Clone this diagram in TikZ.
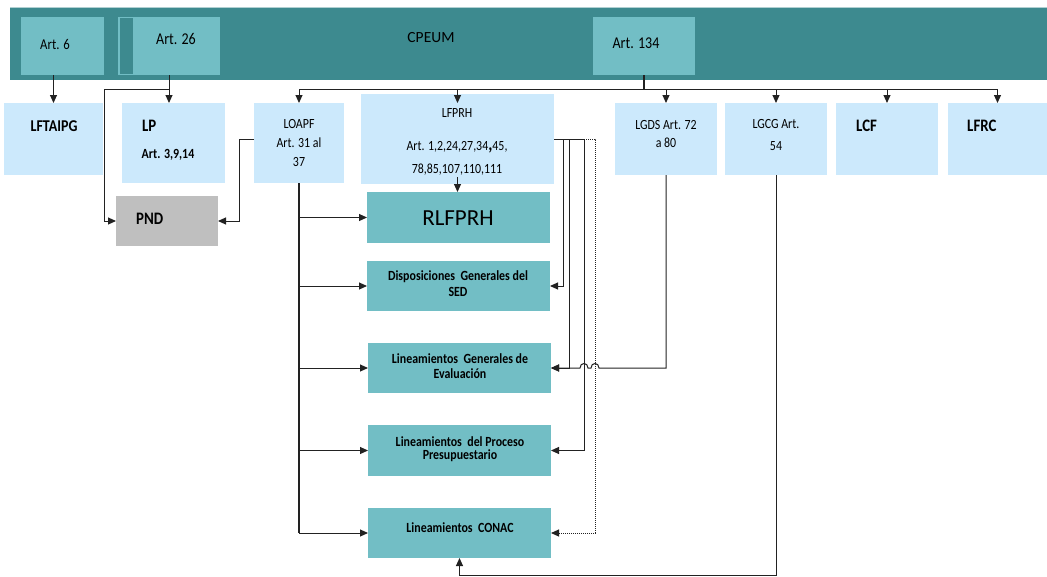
\documentclass[tikz,border=0pt]{standalone}
\usepackage{fontspec}
\setmainfont{Carlito}[FakeStretch=0.85]
\newfontfamily\plaincarlito{Carlito}
\usetikzlibrary{arrows.meta}
\definecolor{banner}{HTML}{3D8A8F}
\definecolor{tealbox}{HTML}{72BEC5}
\definecolor{lightbox}{HTML}{CCE9FC}
\definecolor{pndgray}{HTML}{BFBFBF}
\definecolor{lineclr}{HTML}{222222}
\tikzset{
  box/.style={draw=none, inner sep=0pt, outer sep=0pt, anchor=north west},
  lbox/.style={box, fill=lightbox},
  tbox/.style={box, fill=tealbox},
  ln/.style={draw=lineclr, line width=1pt},
  arr/.style={ln, -{Triangle[length=8pt,width=7pt]}},
  txt/.style={inner sep=0pt, font=\fontsize{14}{16}\selectfont},
  txtb/.style={inner sep=0pt, font=\fontsize{14}{16}\selectfont\bfseries},
  txtbig/.style={inner sep=0pt, font=\fontsize{17.5}{19}\selectfont\bfseries},
  txtart/.style={inner sep=0pt, font=\fontsize{16.5}{18}\selectfont},
}
\begin{document}
\begin{tikzpicture}[x=1pt,y=-1pt]
\useasboundingbox (0,0) rectangle (1047,576);
% banner
\node[box, fill=banner, minimum width=1037pt, minimum height=73pt] (cpeum) at (10,7) {};
\draw[draw=banner!40, line width=1pt] (cpeum.north west) -- (cpeum.north east);
\node[tbox, minimum width=83pt, minimum height=58pt] (art6) at (21,17) {};
\node[tbox, minimum width=102pt, minimum height=58pt] (art26) at (118,17) {};
\node[box, fill=banner, minimum width=13pt, minimum height=56pt] (strip) at (120,18) {};
\node[tbox, minimum width=102pt, minimum height=58pt] (art134) at (593,17) {};
\node[txtart, font=\fontsize{15}{17}\selectfont] (tart6) at (55,44) {Art. 6};
\node[txtart] (tart26) at (176,39) {Art. 26};
\node[inner sep=0pt, font=\plaincarlito\fontsize{15.5}{17}\selectfont] (tcpeum) at (431,38) {CPEUM};
\node[txtart] (tart134) at (636,43) {Art. 134};
% second row
\node[lbox, minimum width=99pt, minimum height=72pt] (lftaipg) at (4,103) {};
\node[lbox, minimum width=103pt, minimum height=80pt] (lp) at (122,103) {};
\node[lbox, minimum width=90pt, minimum height=80pt] (loapf) at (254,103) {};
\node[lbox, minimum width=193pt, minimum height=90pt] (lfprh) at (361,94) {};
\node[lbox, minimum width=102pt, minimum height=72pt] (lgds) at (615,103) {};
\node[lbox, minimum width=102pt, minimum height=72pt] (lgcg) at (725,103) {};
\node[lbox, minimum width=102pt, minimum height=72pt] (lcf) at (836,103) {};
\node[lbox, minimum width=99pt, minimum height=72pt] (lfrc) at (948,103) {};
\node[box, fill=pndgray, minimum width=102pt, minimum height=50pt] (pnd) at (116,196) {};
% teal boxes
\node[tbox, minimum width=183pt, minimum height=51pt] (rlfprh) at (367,192) {};
\node[tbox, minimum width=183pt, minimum height=50pt] (disp) at (367,261) {};
\node[tbox, minimum width=183pt, minimum height=50pt] (lge) at (368,343) {};
\node[tbox, minimum width=183pt, minimum height=51pt] (lpp) at (368,425) {};
\node[tbox, minimum width=183pt, minimum height=50pt] (conac) at (368,508) {};
% texts
\node[txtb, font=\fontsize{16.5}{18}\selectfont\bfseries] (tlftaipg) at (54,126) {LFTAIPG};
\node[txtbig, anchor=west] (tlp) at (142,126) {LP};
\node[txtb] (tlpart) at (168,155) {Art. 3,9,14};
\node[txt] (tloapf1) at (299,124) {LOAPF};
\node[txt] (tloapf2) at (299,143) {Art. 31 al};
\node[txt] (tloapf3) at (299,162) {37};
\node[txt] (tlfprh1) at (457,113) {LFPRH};
\node[txt] (tlfprh2) at (457,147) {Art. 1,2,24,27,34{\fontsize{19}{19}\selectfont\bfseries,}45,};
\node[txt] (tlfprh3) at (457,170) {78,85,107,110,111};
\node[txt] (tlgds1) at (666,125) {LGDS Art. 72};
\node[txt] (tlgds2) at (666,143) {a 80};
\node[txt] (tlgcg1) at (776,124) {LGCG Art.};
\node[txt] (tlgcg2) at (776,146) {54};
\node[txtbig, anchor=west] (tlcf) at (856,126) {LCF};
\node[txtbig, anchor=west] (tlfrc) at (967,126) {LFRC};
\node[txtbig, anchor=west] (tpnd) at (136,219) {PND};
\node[inner sep=0pt, font=\plaincarlito\fontsize{23}{25}\selectfont] (trlfprh) at (458,218) {RLFPRH};
\node[txtb] (tdisp1) at (458,277) {Disposiciones\ \ Generales del};
\node[txtb] (tdisp2) at (458,292) {SED};
\node[txtb] (tlge1) at (460,359) {Lineamientos\ \ Generales de};
\node[txtb] (tlge2) at (460,374) {Evaluación};
\node[txtb] (tlpp1) at (460,442) {Lineamientos\ \ del Proceso};
\node[txtb] (tlpp2) at (460,456) {Presupuestario};
\node[txtb] (tconac) at (460,528) {Lineamientos\ \ CONAC};
% connectors from banner
\coordinate (bus) at (644,89);
\coordinate (tipy) at (0,103);
\draw[ln, line width=2pt] (art134.south) -- (art134.south |- bus);
\draw[ln] (loapf.north |- bus) -- (lfrc.north |- bus);
\foreach \n in {loapf,lfprh,lgds,lgcg,lcf,lfrc}
  \draw[arr] (\n.north |- bus) -- (\n.north |- tipy);
\draw[arr] (art6.south -| lftaipg.north) -- (lftaipg.north);
\draw[arr] (art26.south) -- (art26.south |- lp.north);
\coordinate (j26) at (art26.south |- bus);
\coordinate (pndl) at (104,89);
\draw[arr] (j26) -- (pndl) |- (pnd.west);
\coordinate (loapfw) at (254,139);
\coordinate (loapfl) at (239,139);
\draw[arr] (loapfw) -- (loapfl) |- (pnd.east);
% LOAPF trunk
\draw[ln, line width=1.4pt] (loapf.south) -- (loapf.south |- conac.west);
\foreach \n in {rlfprh,disp,lge,lpp,conac}
  \draw[arr] (loapf.south |- \n.west) -- (\n.west);
% LFPRH to RLFPRH
\coordinate (lfs) at (457.5,177);
\draw[arr] (lfs) -- (lfs |- rlfprh.north);
% LFPRH right side
\coordinate (v1) at (563,139);
\coordinate (v2) at (569,139);
\coordinate (v3) at (584,139);
\coordinate (v4) at (595,139);
\draw[ln] (lfprh.east) -- (v3);
\draw[arr] (v1) |- (disp.east);
\draw[arr] (v2) |- (lge.east);
\draw[arr] (v3) |- (lpp.east);
\draw[arr, densely dotted] (v3) -- (v4) |- (conac.east);
% LGDS to LGE with hops
\coordinate (h1) at (599,368);
\coordinate (h2) at (591,368);
\coordinate (h3) at (588,368);
\coordinate (h4) at (580,368);
\draw[arr] (lgds.south) -- (lgds.south |- lge.east) -- (h1) .. controls (599,362) and (591,362) .. (h2) -- (h3) .. controls (588,362) and (580,362) .. (h4) -- (lge.east);
% LGCG to CONAC
\coordinate (bot) at (776,575);
\draw[arr] (lgcg.south) -- (bot) -| (conac.south);
\end{tikzpicture}
\end{document}
